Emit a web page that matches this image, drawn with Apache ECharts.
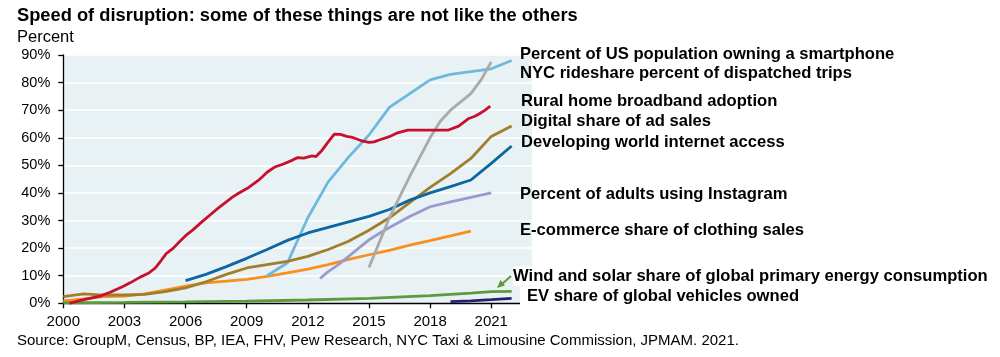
<!DOCTYPE html>
<html>
<head>
<meta charset="utf-8">
<script src="https://cdn.jsdelivr.net/npm/echarts@6/dist/echarts.min.js"></script>
<style>html,body{margin:0;padding:0;background:#fff}#c{width:1000px;height:357px}</style>
</head>
<body>
<div id="c"></div>
<script>
// ---- data (year, percent) ----
const xTicks = [2000, 2003, 2006, 2009, 2012, 2015, 2018, 2021];
const yTicks = [0, 10, 20, 30, 40, 50, 60, 70, 80, 90];

const smartphone = [[2010,10],[2011,14.7],[2012,31],[2013,44],[2014,53],[2015,61],[2016,71],[2017,76],[2018,81],[2019,83],[2020,84],[2021,85],[2022,88]];
const rideshare = [[2015,13],[2015.5,22],[2016,31],[2016.5,38.5],[2017,46],[2017.5,53],[2018,60],[2018.5,66],[2019,70],[2019.5,73],[2020,76],[2020.5,81],[2021,87.5]];
const broadband = [[2000.3,0],[2000.8,1.0],[2001.3,1.8],[2001.8,2.6],[2002.3,4.0],[2002.9,6.0],[2003.3,7.5],[2003.75,9.4],[2004.2,11.0],[2004.5,12.7],[2004.8,15.5],[2005.05,18],[2005.4,20],[2005.7,22.3],[2006.0,24.5],[2006.36,26.6],[2006.8,29.5],[2007.2,32],[2007.6,34.5],[2008.0,36.8],[2008.3,38.5],[2008.6,39.9],[2009.1,42],[2009.6,44.7],[2010.0,47.5],[2010.35,49.3],[2010.8,50.5],[2011.25,51.9],[2011.5,52.8],[2011.8,52.6],[2012.2,53.4],[2012.4,53.2],[2012.7,55.5],[2013.0,58.5],[2013.3,61.3],[2013.6,61.2],[2013.9,60.5],[2014.2,60.1],[2014.6,59],[2015.0,58.3],[2015.25,58.5],[2015.5,59.2],[2016.0,60.4],[2016.4,61.8],[2016.9,62.8],[2017.5,62.8],[2018.2,62.8],[2018.9,62.8],[2019.4,64.2],[2019.9,67],[2020.2,67.8],[2020.4,68.6],[2020.7,70],[2020.95,71.5]];
const digitalAds = [[2000,2.4],[2001,3.4],[2002,3.0],[2003,3.0],[2004,3.2],[2005,4.2],[2006,5.6],[2007,7.8],[2008,10.5],[2009,12.8],[2010,14],[2011,15.2],[2012,17],[2013,19.5],[2014,22.5],[2015,26.5],[2016,31],[2017,36.5],[2018,42],[2019,47],[2020,52.5],[2021,60.5],[2022,64.3]];
const devInternet = [[2006,8.2],[2007,10.5],[2008,13.3],[2009,16.3],[2010,19.5],[2011,22.8],[2012,25.5],[2013,27.5],[2014,29.5],[2015,31.5],[2016,34],[2017,37.4],[2018,40],[2019,42.3],[2020,44.7],[2021,50.7],[2022,57]];
const instagram = [[2012.6,9],[2013,11.5],[2013.5,14],[2014,17],[2014.5,20],[2015,23],[2015.5,25.3],[2016,27.5],[2017,31.5],[2018,35],[2019,36.8],[2020,38.4],[2021,40]];
const ecommerce = [[2000,0.9],[2001,1.6],[2002,2.4],[2003,2.6],[2004,3.4],[2005,4.8],[2006,6.2],[2007,7.4],[2008,8.0],[2009,8.7],[2010,9.8],[2011,11],[2012,12.4],[2013,14],[2014,15.9],[2015,17.6],[2016,19.2],[2017,21.1],[2018,22.7],[2019,24.4],[2020,26.2]];
const windSolar = [[2000,0.2],[2003,0.3],[2006,0.5],[2009,0.8],[2012,1.2],[2015,1.8],[2018,2.8],[2020,3.7],[2021,4.2],[2022,4.3]];
const evShare = [[2019,0.6],[2020,0.9],[2021,1.3],[2022,1.8]];

const seriesNames = [
  'Percent of US population owning a smartphone',
  'NYC rideshare percent of dispatched trips',
  'Rural home broadband adoption',
  'Digital share of ad sales',
  'Developing world internet access',
  'Percent of adults using Instagram',
  'E-commerce share of clothing sales',
  'Wind and solar share of global primary energy consumption',
  'EV share of global vehicles owned'
];
const seriesData = [smartphone, rideshare, broadband, digitalAds, devInternet, instagram, ecommerce, windSolar, evShare];
const colors = ['#6DB9DE','#AAAAAA','#C8102E','#A07E2C','#0A67A0','#9A9AD0','#F7901E','#5C9A3C','#22226E'];
const zs = [3,4,5,3,3,3,2,2,2];

const FONT = '"Liberation Sans", Arial, sans-serif';
const chart = echarts.init(document.getElementById('c'), null, {renderer:'canvas'});

const labelPos = [
  [520,54],[520,73.5],[521,101.5],[521,121.5],[521,142.5],[520,194],[520,230],[513,276],[520,296]
];

const graphics = [
  {type:'text', left:17, top:7, style:{text:'Speed of disruption: some of these things are not like the others', font:'bold 18.3px '+FONT, fill:'#000'}},
  {type:'text', left:17, top:28.5, style:{text:'Percent', font:'16.5px '+FONT, fill:'#000'}},
  {type:'text', left:17, top:333.5, style:{text:'Source: GroupM, Census, BP, IEA, FHV, Pew Research, NYC Taxi & Limousine Commission, JPMAM. 2021.', font:'15px '+FONT, fill:'#000'}}
];
seriesNames.forEach((n,i)=>{
  const white = i >= 7;
  graphics.push({type:'text', x:labelPos[i][0], y:labelPos[i][1], z:10,
    style:{text:n, font:'bold 16.6px '+FONT, fill:'#000', verticalAlign:'middle', align:'left',
      backgroundColor: white ? '#fff' : null, padding: white ? [1,2,1,(i==8?7:0)] : 0}});
});
// arrow from wind/solar label to its line
graphics.push({type:'line', z:11, shape:{x1:511,y1:276,x2:501,y2:285}, style:{stroke:'#5C9A3C', lineWidth:2}});
graphics.push({type:'polygon', z:11, shape:{points:[[497,288],[500.5,280],[505,285.5]]}, style:{fill:'#5C9A3C'}});

chart.setOption({
  animation:false,
  grid:{left:63.3, right:468, top:55, bottom:53.7, show:true, backgroundColor:'#E8F1F4', borderWidth:0},
  xAxis:{type:'value', min:2000, max:2023, interval:1,
    axisLine:{show:true, onZero:false, lineStyle:{color:'#000', width:1.3}},
    axisTick:{show:true, length:5, customValues:xTicks, lineStyle:{color:'#000', width:1.3}},
    axisLabel:{customValues:xTicks, margin:11, color:'#000', fontSize:15, fontFamily:FONT, formatter:(v)=>String(v)},
    splitLine:{show:false}},
  yAxis:{type:'value', min:0, max:90, interval:10,
    axisLine:{show:true, lineStyle:{color:'#000', width:1.3}},
    axisTick:{show:true, length:5, lineStyle:{color:'#000', width:1.3}},
    axisLabel:{margin:13, color:'#000', fontSize:14.5, fontFamily:FONT, formatter:'{value}%'},
    splitLine:{show:true, lineStyle:{color:'#fff', width:1.5}}},
  series: seriesData.map((d,i)=>({name:seriesNames[i], type:'line', data:d, showSymbol:false, symbol:'none',
    z:zs[i], lineStyle:{color:colors[i], width:2.8}, itemStyle:{color:colors[i]}, smooth:false})),
  graphic: graphics
});
</script>
</body>
</html>
